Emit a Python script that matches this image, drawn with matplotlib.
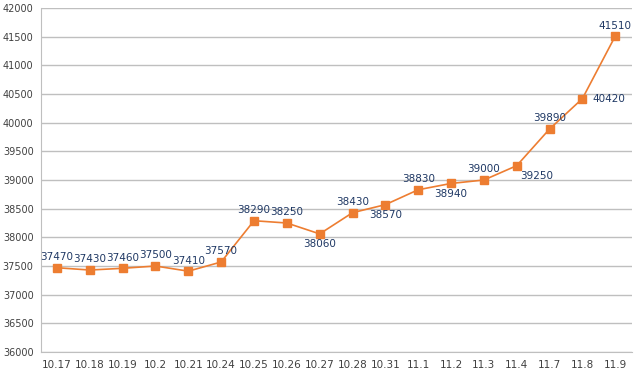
import matplotlib.pyplot as plt

dates = ['10.17', '10.18', '10.19', '10.2', '10.21', '10.24', '10.25', '10.26', '10.27',
         '10.28', '10.31', '11.1', '11.2', '11.3', '11.4', '11.7', '11.8', '11.9']
prices = [37470, 37430, 37460, 37500, 37410, 37570, 38290, 38250, 38060,
          38430, 38570, 38830, 38940, 39000, 39250, 39890, 40420, 41510]
# where each label sits relative to its point
label_pos = ['a', 'a', 'a', 'a', 'a', 'a', 'a', 'a', 'b',
             'a', 'b', 'a', 'b', 'a', 'b', 'a', 'r', 'a']

fig = plt.figure(figsize=(6.4, 3.76), dpi=100)
ax = fig.add_axes([0.0633, 0.0638, 0.9237, 0.9149])

x = range(len(dates))
ax.plot(x, prices, color='#ED7D31', lw=1.2, marker='s', markersize=5.5,
        markerfacecolor='#ED7D31', markeredgecolor='#ED7D31', zorder=3)

offsets = {'a': (0, 4, 'center', 'bottom'),
           'b': (0, -4, 'center', 'top'),
           'r': (7, 0, 'left', 'center')}
for i, (v, p) in enumerate(zip(prices, label_pos)):
    dx, dy, ha, va = offsets[p]
    if i == 14:
        dx = 14
    ax.annotate(str(v), (i, v), xytext=(dx, dy), textcoords='offset points',
                ha=ha, va=va, fontsize=7.5, color='#1F3864')

ax.set_xlim(-0.5, len(dates) - 0.5)
ax.set_ylim(36000, 42000)
ax.set_yticks(range(36000, 42001, 500))
ax.set_xticks(list(x))
ax.set_xticklabels(dates)
ax.grid(axis='y', color='#BFBFBF', lw=1)
ax.set_axisbelow(True)
for s in ['top', 'right']:
    ax.spines[s].set_visible(False)
for s in ['left', 'bottom']:
    ax.spines[s].set_color('#BFBFBF')
ax.tick_params(axis='x', length=0, labelsize=7.5, colors='#404040', pad=6)
ax.tick_params(axis='y', length=0, labelsize=7, colors='#404040', pad=5)

plt.savefig('out.png', dpi=100)
